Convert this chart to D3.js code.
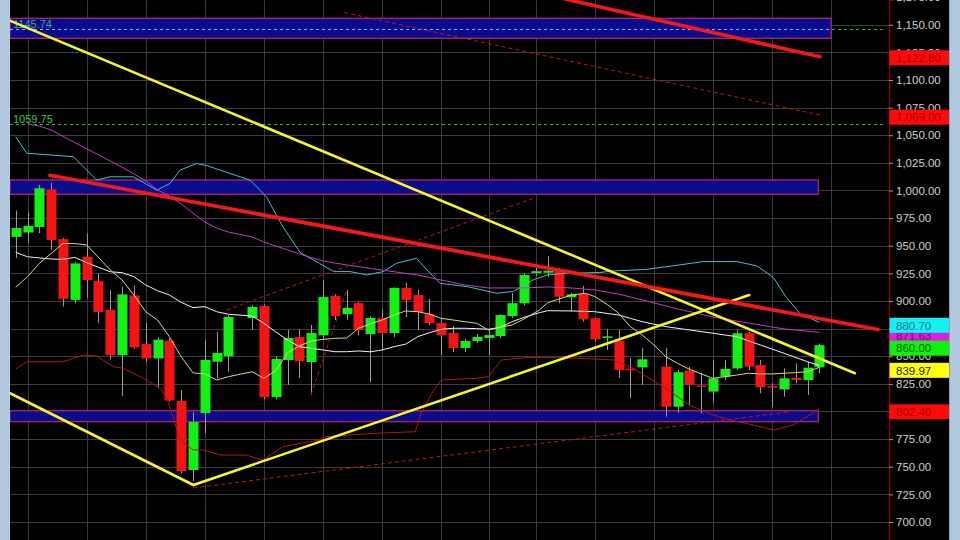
<!DOCTYPE html>
<html><head><meta charset="utf-8">
<script src="https://cdn.jsdelivr.net/npm/d3@7"></script>
<style>body{margin:0;background:#000;overflow:hidden} svg{display:block}</style>
</head><body><svg id="c" width="960" height="540"></svg>
<script>
// ---------- DATA ----------
// daily candles, index 0..68 (null = no bar drawn)
const open  = [958,962,967,1001,956,901,940,918,892,851,905,861,848,864,809.5,747,798.6,845,850,null,884.6,895.5,813,846.6,867.4,844.8,869,904.5,888,898,870,884.6,871,911.8,905.4,888,880,871,857.5,863.8,866.5,868.3,886.4,898,925.3,925.6,928,903.3,906.3,884.3,867,864,838.8,840,null,840.6,804.3,837,823.5,818,831.5,839,870.8,842,823,820,830.6,828.5,840];
const high  = [982,980,1005,1007,957,935,961,925,910,913,914,880,867,866,819.5,799.5,865,872,887,null,896,897,850,873.8,874.7,878.3,919,906,910,899,886,892,912.5,916.3,910,901.8,884.6,877.4,865.6,870,873.8,888,907,925,930,940.7,929.9,907.5,913.6,884.6,874.7,873.8,848.4,857.5,null,857.5,837.6,840.6,834.8,846.6,846.6,873.8,872,846.6,825.5,839,843.6,845,861];
const low   = [939,953,961.5,946,895,898,903,880,847,814,857,845,822,809,744,737,780.5,830,836,null,874,811,811,824,830.3,815,864.7,882.8,882.8,869,826.7,855.7,867.4,885.5,873.8,878.3,851,853.8,853.8,862,851,866.5,884.6,896,922.6,921.7,898.2,890.3,881.3,863.2,855.7,830.3,812.2,824,null,795.3,799,805.9,798.6,808.9,828.5,837.6,837.6,816.5,804.3,813.4,825.5,815,834.6];
const close = [966,968,1002,955,902,934,919,890,851,906,858,848,865,810,746,790.5,846.6,853,885.5,null,894.6,813,847.5,866.5,845.7,871,903.6,886.4,893.7,873.8,884.6,871,911.8,901,890,880,869,857.5,863.8,867.4,869.2,887.3,898,923.5,927,927.4,903.9,906,883.4,865.3,868,837.6,838.2,847.2,null,804.3,835.5,824,822.7,830,838.5,870.8,840.6,822,822,830,828.5,839.6,860];

// indicator lines: [bar index, price]
const maShort = [[0,912.4],[1,922],[2,934],[3,943],[4,952],[5,952],[6,950.7],[7,939.5],[8,928],[9,919],[10,905.4],[11,890.3],[12,882.8],[13,867.7],[14,849.6],[15,835],[16,834],[17,828.5],[18,831.5],[20,836],[21,830],[22,837],[23,853.2],[24,859.3],[25,863.8],[26,865.3],[27,866.2],[28,866.5],[29,875.3],[30,879.2],[31,882.8],[32,887.3],[33,891],[34,890.3],[35,888.2],[36,884.3],[37,882.8],[38,881.3],[39,879.8],[40,873.8],[41,876.2],[42,878.3],[43,883.7],[44.3,891.8],[45,898.5],[46.6,904],[47,905.4],[48.2,907],[49,904],[50.1,896.4],[51,889],[52,876.8],[53,869.2],[54,860.2],[55,849.6],[56,843.6],[57,838.2],[58,834],[59,830],[60,831.5],[61,833],[62,834.6],[63,834],[64,834],[65,834.6],[66,835.2],[67,836],[68,839.97]];
const maMid = [[0,944],[1,940],[3,938],[4,937.7],[5,939.5],[6,934.7],[7,930.5],[8,926.5],[9,925.6],[10,922],[11,914.5],[12,909.3],[13,905.4],[14,898.8],[15,894],[16,894.9],[17,890.3],[18,888],[20,886.4],[21,879.8],[22,872],[23,864.7],[24,858.6],[25,857.2],[26,855.7],[27,854.1],[28,854.1],[29,854.8],[30,854],[31,855.7],[32,858.6],[33,861],[34,867.7],[35,871.3],[36,874.4],[37,875.3],[38,875.3],[39,875],[40,874.4],[41,876.2],[42,881.3],[43,885.2],[44.3,889.4],[45,891.2],[47,891],[49,890.3],[51,887.3],[52,884.3],[53,881.3],[55,876.8],[57,873.8],[59,870.8],[61,867.7],[63,860.2],[65,852.7],[67,845],[68,841.5]];
const maLong = [[1,1060.2],[2,1058.4],[3,1054.8],[4,1049],[5,1043.4],[6,1037.7],[7,1032.3],[8,1026.7],[9,1021],[10,1015],[11,1008.6],[12,1000.5],[13,995],[14,987.8],[15,979.6],[16,971.5],[17,966],[18,962.4],[20,958],[21,953.4],[22,949.8],[23,946.2],[24,942.5],[26,936.2],[28,932.6],[31,928],[34,923.5],[36,919],[38,914.5],[40,911.8],[43,911.8],[45,912.7],[47,911.8],[49,910],[51,906.3],[53,901],[56,892.8],[59,885.5],[62,880],[65,874.7],[68,871.63]];
const bandUpper = [[0,1048.7],[0.93,1033.7],[4.87,1030.6],[6.85,1009.5],[7.98,1012.4],[9.95,1012.4],[11.93,1000.3],[13.05,1006.3],[13.9,1018.4],[15.3,1024.4],[16.16,1022.6],[17.3,1018.4],[19.8,1009.5],[21.2,994.4],[22.6,967.3],[24.05,944],[25.7,934.1],[26.9,926.6],[28.3,926.6],[29.7,923.6],[31.1,926.6],[32.2,934.1],[33.9,938.6],[34.8,928.1],[35.9,916],[38.2,913],[40.7,907],[42.1,908.6],[43.8,919.2],[45,923.6],[46.6,925.1],[49.4,925.8],[50.6,927.2],[53.4,928.7],[56.2,932.7],[58.2,935.7],[61,935.7],[62.7,931.8],[64.1,921.3],[65.2,903.2],[66.4,888.1],[68,880.7]];
const bandLower = [[0,838.2],[0.93,845.1],[4.03,845.1],[5.72,851.1],[6.85,850.2],[8.26,840.5],[9.1,839.1],[10.8,830],[12.2,821],[12.8,811.9],[13.3,795.3],[13.9,774.2],[15,765.2],[15.9,765.2],[17.3,760.6],[19.5,760.6],[20.9,756.1],[22.6,768.1],[24.05,771.2],[25.7,774.2],[26.2,777.2],[30.4,780.3],[33.8,781.7],[34.3,798.4],[35.2,816.5],[36,828.5],[38.9,830],[40,831.5],[41.1,846.6],[43.4,849],[45.2,849],[47.7,848.1],[50.6,846.6],[52,840.5],[54.8,822.4],[57,805.9],[59,796.8],[60.4,792.3],[61.8,789.3],[64.1,783.3],[65.8,787.8],[68,802.4]];

// drawn trend lines: [bar index, price]
const yellowDown  = [[-0.48,1153.7],[71.0,834.6]];
const yellowV     = [[-0.48,816.5],[15.03,733.5],[62.06,905.4]];
const redUpper    = [[46.47,1173.3],[68.05,1121]];
const redLower    = [[2.9,1013.8],[72.95,874.2]];
const dashTop     = [[27.8,1161],[68.05,1068.3]];
const dashMid     = [[17.85,891.9],[43.79,993]];
const dashSteep   = [[24.98,815],[28.0,910]];
const dashBottom  = [[15.03,730.8],[65.5,799.8]];

// zones [low price, high price, right end bar index]
const zones = [[1137.7,1155.8,69],[996.6,1009.5,67.9],[790.8,800.7,67.9]];
const levelLines = [1145.74, 1059.75];
const levelText  = ["1145.74", "1059.75"];

// week separators (bar index)
const weekStarts = [1,6,11,16,21,26,31,36,40,44,49,54,59,64,69];
const tickValues = d3.range(700, 1176, 25);
const hiddenTicks = [875, 800];   // fully covered by price flags

// price flags on the axis
const flagNames  = ["upper", "downline", "long", "bbUpper", "last", "short", "bbLower"];
const flagValues = [1122.80, 1069.00, 871.63, 880.70, 860.00, 839.97, 802.40];

// ---------- DRAW ----------
const W = 960, H = 540, left = 10, axisX = 889, right = 949;
const svg = d3.select("#c");
const x = d3.scaleLinear().domain([0, 68]).range([15.7, 819.46]);
const y = d3.scaleLinear().domain([683.7, 1172.4]).range([540, 0]);
const font = "'Liberation Sans', Arial, sans-serif";

svg.append("rect").attr("width", W).attr("height", H).attr("fill", "#000");
svg.append("rect").attr("x", 0).attr("width", left).attr("height", H).attr("fill", "#b3c9df");
svg.append("rect").attr("x", right).attr("width", W - right).attr("height", H).attr("fill", "#b3c9df");
svg.append("line").attr("x1", right + 0.5).attr("x2", right + 0.5).attr("y1", 0).attr("y2", H).attr("stroke", "#8aa4c0");

svg.append("clipPath").attr("id", "plot").append("rect")
  .attr("x", left).attr("y", 0).attr("width", axisX - left).attr("height", H);
const plot = svg.append("g").attr("clip-path", "url(#plot)");

// grid
plot.selectAll(".hg").data(tickValues).join("line")
  .attr("x1", left).attr("x2", axisX).attr("y1", d => Math.round(y(d)) + 0.5).attr("y2", d => Math.round(y(d)) + 0.5)
  .attr("stroke", "#3c3c3c").attr("stroke-width", 1);
plot.selectAll(".vg").data(weekStarts).join("line")
  .attr("x1", d => Math.round(x(d)) + 0.5).attr("x2", d => Math.round(x(d)) + 0.5).attr("y1", 0).attr("y2", H)
  .attr("stroke", "#3c3c3c").attr("stroke-width", 1);

// level lines (green dashed)
plot.selectAll(".lvl").data(levelLines).join("line")
  .attr("x1", left).attr("x2", axisX - 6).attr("y1", d => y(d)).attr("y2", d => y(d))
  .attr("stroke", "#2fbf2f").attr("stroke-width", 1).attr("stroke-dasharray", "3,3");

// zones
plot.selectAll(".zone").data(zones).join("rect")
  .attr("x", left).attr("y", d => y(d[1])).attr("width", d => x(d[2]) - left)
  .attr("height", d => y(d[0]) - y(d[1]))
  .attr("fill", "#0b0b8e").attr("stroke", "#b0246a").attr("stroke-width", 1.3);
// level line inside the top zone
plot.append("line").attr("x1", left).attr("x2", x(zones[0][2]))
  .attr("y1", y(levelLines[0])).attr("y2", y(levelLines[0]))
  .attr("stroke", "#8fb4ff").attr("stroke-width", 1).attr("stroke-dasharray", "3,3");

// level texts
plot.selectAll(".lvt").data(levelLines).join("text")
  .attr("x", 13).attr("y", d => y(d) - 1.5)
  .attr("fill", (d, i) => i === 0 ? "#3aa890" : "#3cc83c")
  .attr("font-family", font).attr("font-size", 11)
  .text((d, i) => levelText[i]);

// candles
const bars = d3.range(open.length).filter(i => open[i] !== null);
const bw = 10;
plot.selectAll(".wick").data(bars).join("line")
  .attr("x1", i => Math.round(x(i)) + 0.5).attr("x2", i => Math.round(x(i)) + 0.5)
  .attr("y1", i => y(high[i])).attr("y2", i => y(low[i]))
  .attr("stroke", "#9a9a9a").attr("stroke-width", 1);
plot.selectAll(".body").data(bars).join("rect")
  .attr("x", i => Math.round(x(i)) + 0.5 - bw / 2)
  .attr("y", i => y(Math.max(open[i], close[i])))
  .attr("width", bw)
  .attr("height", i => Math.max(1.5, Math.abs(y(open[i]) - y(close[i]))))
  .attr("fill", i => close[i] >= open[i] ? "#14f014" : "#f41414");

// indicator lines
const line = d3.line().x(d => x(d[0])).y(d => y(d[1]));
const ind = [
  [bandLower, "#b31515", 1],
  [bandUpper, "#3cc4c8", 1],
  [maLong, "#c23ac8", 1],
  [maMid, "#f2f2f2", 1],
  [maShort, "#d8d878", 1]
];
ind.forEach(([d, c, w]) => plot.append("path").attr("d", line(d)).attr("fill", "none")
  .attr("stroke", c).attr("stroke-width", w));

// dashed trend lines
[dashTop, dashMid, dashSteep, dashBottom].forEach(d => plot.append("path").attr("d", line(d))
  .attr("fill", "none").attr("stroke", "#c01818").attr("stroke-width", 1).attr("stroke-dasharray", "4,3"));

// thick trend lines
[[yellowDown, "#f5f52a", 2.6], [yellowV, "#f5f52a", 2.6], [redUpper, "#f41818", 3.6], [redLower, "#f41818", 3.8]]
  .forEach(([d, c, w]) => plot.append("path").attr("d", line(d)).attr("fill", "none")
    .attr("stroke", c).attr("stroke-width", w).attr("stroke-linecap", "round"));

// axis
const fmt = d3.format(",.2f");
const axis = d3.axisRight(y).tickValues(tickValues)
  .tickFormat(d => hiddenTicks.includes(d) ? "" : fmt(d)).tickSize(4).tickPadding(3);
const ag = svg.append("g").attr("transform", `translate(${axisX},0)`).call(axis);
ag.select(".domain").attr("stroke", "#a00000").attr("stroke-width", 1.2);
ag.selectAll(".tick line").attr("stroke", "#9a9a9a");
ag.selectAll(".tick text").attr("fill", "#cfcfcf").attr("font-family", font).attr("font-size", 11.5);

// axis flags
const flagStyle = {
  upper:    ["#ff0a0a", "#a80000"],
  downline: ["#ff0a0a", "#a80000"],
  long:     ["#e01ee0", "#6a106a"],
  bbUpper:  ["#12f2f2", "#1a7890"],
  last:     ["#10f010", "#0a5a0a"],
  short:    ["#ffff10", "#202000"],
  bbLower:  ["#ff0a0a", "#a80000"]
};
const fg = svg.append("g");
flagValues.forEach((v, i) => {
  const [bg, fgc] = flagStyle[flagNames[i]];
  const cy = y(v) + 3;
  fg.append("rect").attr("x", axisX + 0.5).attr("y", cy - 7.5).attr("width", right - axisX - 0.5).attr("height", 15)
    .attr("fill", bg);
  fg.append("text").attr("x", axisX + 7).attr("y", cy + 4.2).attr("fill", fgc)
    .attr("font-family", font).attr("font-size", 11.5).text(fmt(v));
});
</script></body></html>
